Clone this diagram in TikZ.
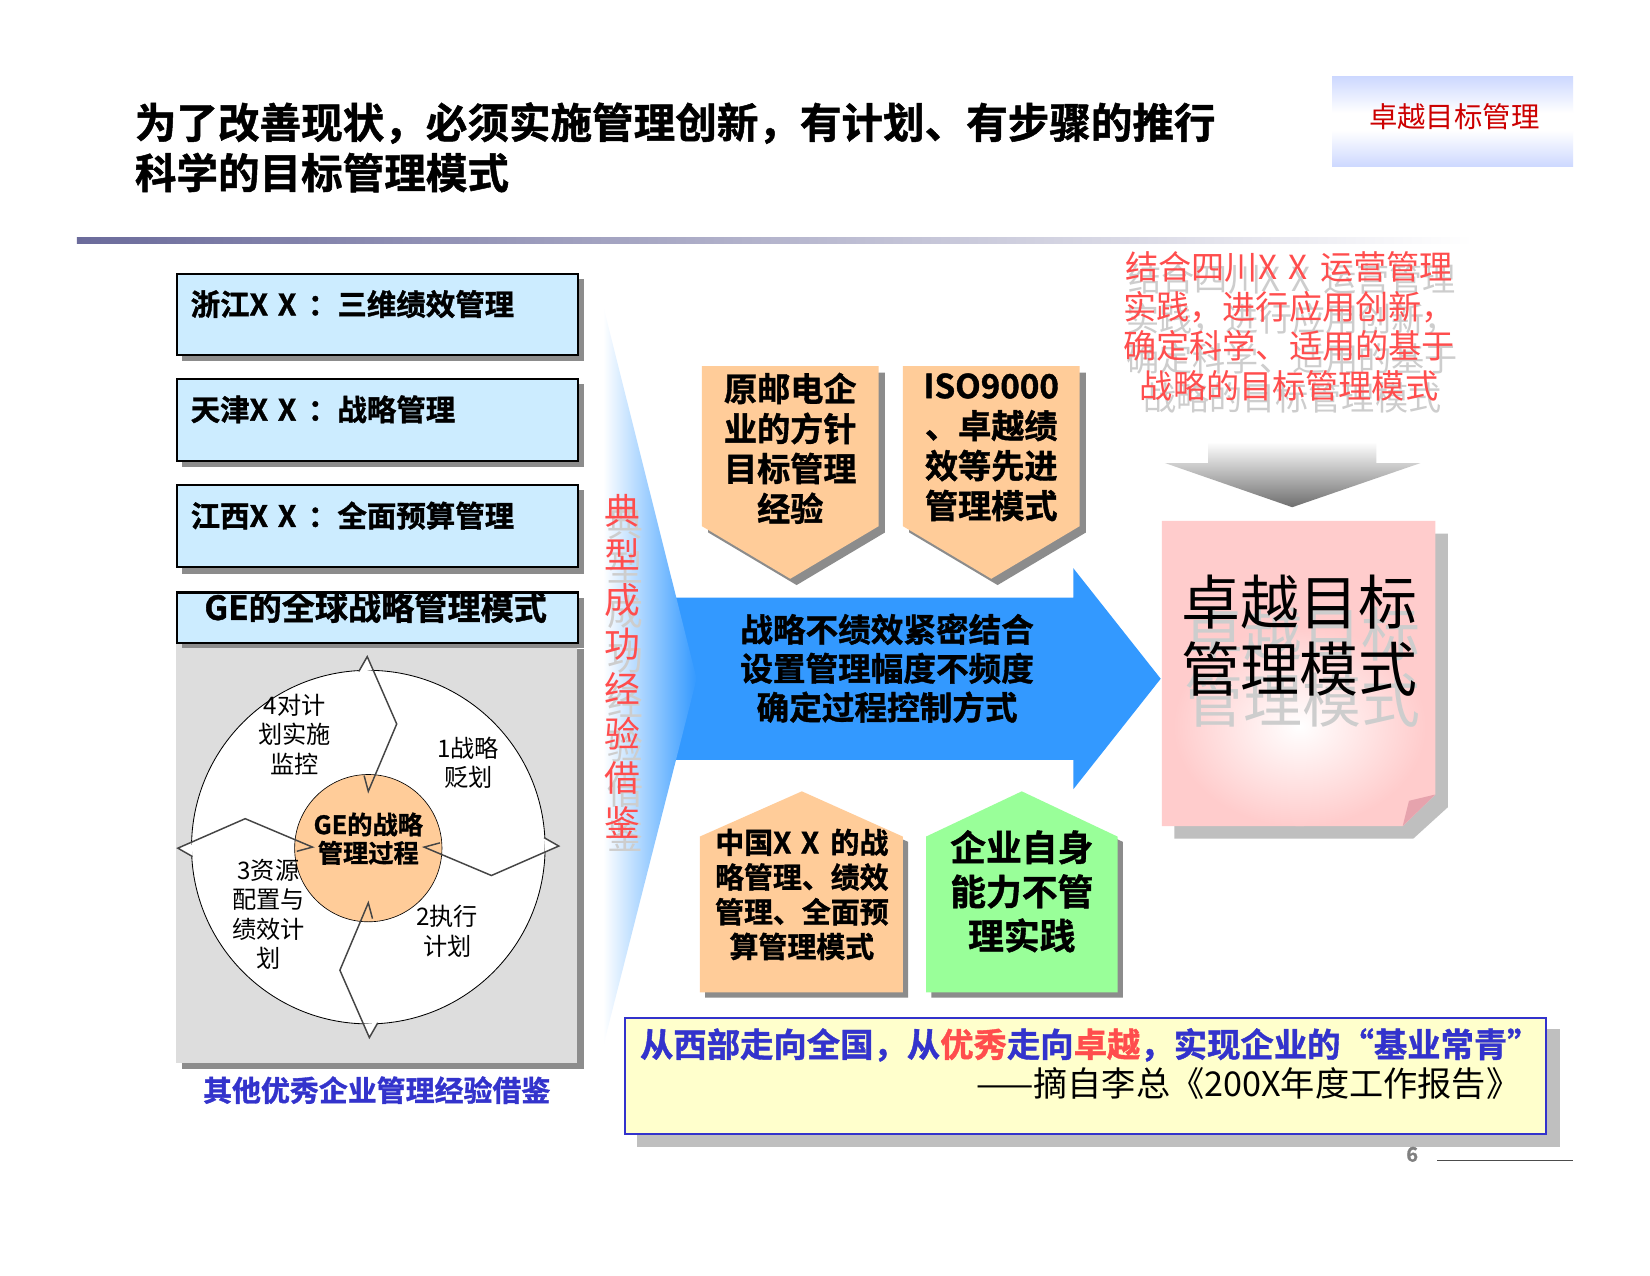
\documentclass[tikz,border=0pt]{standalone}
\usepackage{fontspec}
\setmainfont{Noto Sans CJK SC}[BoldFont={Noto Sans CJK SC Bold}, BoldFeatures={FakeBold=1.2}]
\usetikzlibrary{calc}
\definecolor{boxblue}{HTML}{CCECFF}
\definecolor{panelgray}{HTML}{DDDDDD}
\definecolor{peach}{HTML}{FFCC99}
\definecolor{lgreen}{HTML}{99FF99}
\definecolor{arrowblue}{HTML}{3399FF}
\definecolor{redtxt}{HTML}{FF4D4D}
\definecolor{quoteblue}{HTML}{3333CC}
\definecolor{pinkbox}{HTML}{FFCCCC}
\definecolor{foldpink}{HTML}{E6A3AD}
\definecolor{lyellow}{HTML}{FFFFCC}
\definecolor{badgeblue}{HTML}{8FA8FF}
\definecolor{badgered}{HTML}{CC0000}
\definecolor{linegray}{HTML}{6B6B9B}
\definecolor{shadowdark}{HTML}{8C8C8C}
\definecolor{shadowlight}{HTML}{BFBFBF}
\definecolor{chevgray}{HTML}{454545}
\definecolor{ghost}{HTML}{CDCDCD}
\definecolor{arrowgray}{HTML}{6E6E6E}
\pgfdeclareverticalshading{badgeshade}{100bp}{color(0bp)=(badgeblue); color(45bp)=(white); color(55bp)=(white); color(100bp)=(badgeblue)}
\newcommand\fsz[2]{\fontsize{#1}{#2}\selectfont}
\begin{document}
\begin{tikzpicture}[x=1pt,y=-1pt,
  txt/.style={inner sep=0pt, align=center},
  lbox/.style={draw=black, line width=2pt, fill=boxblue, inner sep=0pt, anchor=north west},
  shadowfill/.style={fill=shadowdark},
  chev/.style={draw=chevgray, line width=1.4pt, line join=miter},
  ringlbl/.style={txt, font=\fsz{23}{28}},
  pentlbl/.style={txt, font=\bfseries\fsz{31.5}{38}},
]
\useasboundingbox[fill=white] (0,0) rectangle (1568,1212);

% ---------- title ----------
\node[txt, anchor=west, font=\bfseries\fsz{39.5}{46}] (title1) at (128,117) {为了改善现状，必须实施管理创新，有计划、有步骤的推行};
\node[txt, anchor=west, font=\bfseries\fsz{39.5}{46}] (title2) at (128,164) {科学的目标管理模式};

% badge
\node[shading=badgeshade, minimum width=229pt, minimum height=85pt, inner sep=0pt] (badge) at (1380.5,115.5) {};
\node[txt, text=badgered, font=\fsz{27}{32}] (badgetxt) at (1382,111) {卓越目标管理};

% gradient rule
\shade[left color=linegray, right color=white] (73,226) rectangle (1400,231);

% ---------- left column ----------
\fill[shadowfill] (173,265) rectangle (555,343);
\node[lbox, minimum width=381pt, minimum height=77pt] (zj) at (167,259) {};
\node[txt, anchor=west, font=\bfseries\fsz{28}{34}] (zjt) at (181,289) {浙江X\,\,X\, ：三维绩效管理};

\fill[shadowfill] (173,365) rectangle (555,444);
\node[lbox, minimum width=381pt, minimum height=78pt] (tj) at (167,359) {};
\node[txt, anchor=west, font=\bfseries\fsz{28}{34}] (tjt) at (181,389) {天津X\,\,X\, ：战略管理};

\fill[shadowfill] (173,466) rectangle (555,545);
\node[lbox, minimum width=381pt, minimum height=78pt] (jx) at (167,460) {};
\node[txt, anchor=west, font=\bfseries\fsz{28}{34}] (jxt) at (181,490) {江西X\,\,X\, ：全面预算管理};

% gray panel
\fill[shadowfill] (173,617) rectangle (555,1016);
\fill[panelgray] (167,611) rectangle (548,1010);
\fill[shadowfill] (173,568) rectangle (555,616);
\node[lbox, minimum width=381pt, minimum height=48pt] (ge) at (167,562) {};
\node[txt, font=\bfseries\fsz{31.5}{36}] (get) at (357,577) {GE的全球战略管理模式};

% cycle
\node[circle, draw=black, line width=0.8pt, fill=white, minimum size=336pt, inner sep=0pt] (ring) at (350,805) {};
\coordinate (c) at (350,805);
\fill[white] ($(c)+(-9,-167)$) -- ($(c)+(-1,-181)$) -- ($(c)+(5,-168)$) -- cycle;
\fill[white] ($(c)+(167,-9)$) -- ($(c)+(181,-1)$) -- ($(c)+(168,5)$) -- cycle;
\fill[white] ($(c)+(9,167)$) -- ($(c)+(1,181)$) -- ($(c)+(-5,168)$) -- cycle;
\fill[white] ($(c)+(-167,9)$) -- ($(c)+(-181,1)$) -- ($(c)+(-168,-5)$) -- cycle;
\node[circle, draw=black, line width=0.6pt, fill=peach, minimum size=140pt, inner sep=0pt] (core) at (350,806) {};
\draw[chev] ($(c)+(-9,-167)$) -- ($(c)+(-1,-181)$) -- ($(c)+(27,-117)$) -- ($(c)+(0,-53)$) -- ($(c)+(-4,-68)$);
\draw[chev] ($(c)+(167,-9)$) -- ($(c)+(181,-1)$) -- ($(c)+(117,27)$) -- ($(c)+(53,0)$) -- ($(c)+(68,-4)$);
\draw[chev] ($(c)+(9,167)$) -- ($(c)+(1,181)$) -- ($(c)+(-27,117)$) -- ($(c)+(0,53)$) -- ($(c)+(4,68)$);
\draw[chev] ($(c)+(-167,9)$) -- ($(c)+(-181,1)$) -- ($(c)+(-117,-27)$) -- ($(c)+(-53,0)$) -- ($(c)+(-68,4)$);
\node[txt, font=\bfseries\fsz{24}{27}] (coret) at (350,797) {GE的战略\\管理过程};
\node[ringlbl] (s4) at (280,698) {4对计\\划实施\\监控};
\node[ringlbl] (s1) at (445,725) {1战略\\贬划};
\node[ringlbl] (s3) at (255,869) {3资源\\配置与\\绩效计\\划};
\node[ringlbl] (s2) at (425,885) {2执行\\计划};

\node[txt, text=quoteblue, font=\bfseries\fsz{27.5}{32}] (cap) at (358,1036) {其他优秀企业管理经验借鉴};

% ---------- middle ----------
\fill[arrowblue] (630,568) -- (1020,568) -- (1020,540) -- (1103,645) -- (1020,750) -- (1020,722) -- (630,722) -- cycle;
\shade[left color=white, right color=arrowblue] (573,290) -- (662,645) -- (573,995) -- cycle;
\node[txt, text=ghost, font=\fsz{34}{42.4}] (vtg) at (594,645) {典\\型\\成\\功\\经\\验\\借\\鉴};
\node[txt, text=redtxt, font=\fsz{34}{42.4}] (vt) at (591,633) {典\\型\\成\\功\\经\\验\\借\\鉴};
\node[txt, font=\bfseries\fsz{31}{37}] (arrt) at (843,635) {战略不绩效紧密结合\\设置管理幅度不频度\\确定过程控制方式};

% top pentagons
\fill[shadowfill] (673,354) -- (841,354) -- (841,506) -- (757,556) -- (673,506) -- cycle;
\fill[peach] (667,348) -- (835,348) -- (835,500) -- (751,550) -- (667,500) -- cycle;
\node[pentlbl] (p1) at (751,426) {原邮电企\\业的方针\\目标管理\\经验};
\fill[shadowfill] (864,354) -- (1032,354) -- (1032,506) -- (948,556) -- (864,506) -- cycle;
\fill[peach] (858,348) -- (1026,348) -- (1026,500) -- (942,550) -- (858,500) -- cycle;
\node[pentlbl] (p2) at (942,425) {ISO9000\\、卓越绩\\效等先进\\管理模式};

% bottom pentagons
\fill[shadowfill] (670,800) -- (767,757) -- (863,800) -- (863,948) -- (670,948) -- cycle;
\fill[peach] (665,795) -- (762,752) -- (858,795) -- (858,943) -- (665,943) -- cycle;
\node[txt, font=\bfseries\fsz{27.5}{33}] (p3) at (762,850) {中国X\,\,X\, 的战\\略管理、绩效\\管理、全面预\\算管理模式};
\fill[shadowfill] (885,800) -- (976,757) -- (1067,800) -- (1067,948) -- (885,948) -- cycle;
\fill[lgreen] (880,795) -- (971,752) -- (1062,795) -- (1062,943) -- (880,943) -- cycle;
\node[txt, font=\bfseries\fsz{34}{42}] (p4) at (971,847) {企业自身\\能力不管\\理实践};

% ---------- right ----------
\node[txt, text=ghost, font=\fsz{31.5}{37.7}] (rtg) at (1228,322) {结合四川X\,\,X\, 运营管理\\实践，进行应用创新，\\确定科学、适用的基于\\战略的目标管理模式};
\node[txt, text=redtxt, font=\fsz{31.5}{37.7}] (rt) at (1225,310) {结合四川X\,\,X\, 运营管理\\实践，进行应用创新，\\确定科学、适用的基于\\战略的目标管理模式};

\shade[top color=white, bottom color=arrowgray] (1148,420) -- (1308,420) -- (1308,440) -- (1350,440) -- (1228,482) -- (1107,440) -- (1148,440) -- cycle;

\fill[shadowlight] (1116,507) -- (1376,507) -- (1376,767) -- (1343,797) -- (1116,797) -- cycle;
\fill[pinkbox] (1104,495) -- (1364,495) -- (1364,755) -- (1333,785) -- (1104,785) -- cycle;
\shade[inner color=white, outer color=pinkbox] (1235,690) ellipse (120 and 95);
\fill[foldpink] (1364,755) -- (1333,785) -- (1339,761) -- cycle;
\node[txt, text=ghost, font=\fsz{56}{63}] (pbg) at (1238,634) {卓越目标\\管理模式};
\node[txt, font=\fsz{56}{63}] (pb) at (1235,604) {卓越目标\\管理模式};

% ---------- quote ----------
\fill[shadowlight] (605,978) rectangle (1482,1090);
\node[draw=quoteblue, line width=2pt, fill=lyellow, minimum width=875pt, minimum height=111pt, inner sep=0pt, anchor=north west] (quote) at (593,966) {};
\node[txt, anchor=west, font=\bfseries\fsz{31.7}{34}, text=quoteblue] (q1) at (608,993) {从西部走向全国，从{\color{redtxt}优秀}走向{\color{redtxt}卓越}，实现企业的\makebox[1em][r]{“}基业常青\makebox[1em][l]{”}};
\node[txt, anchor=east, font=\fsz{32.5}{34}] (q2) at (1445,1030) {——摘自李总《200X年度工作报告》};

% page number
\node[txt, text=gray, font=\bfseries\fsz{19}{22}] (pg) at (1342,1097) {6};
\draw[black!70, line width=1.2pt] (1366,1103) -- (1495,1103);
\end{tikzpicture}
\end{document}
